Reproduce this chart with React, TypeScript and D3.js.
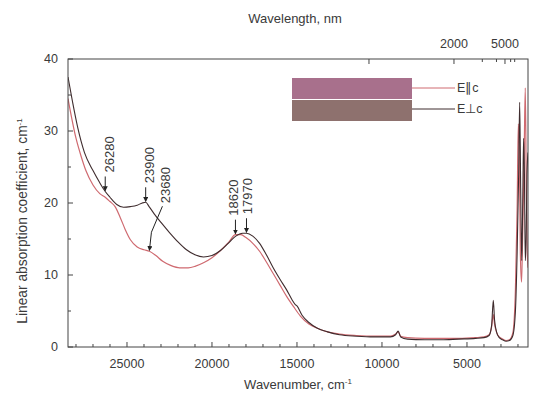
import React, { useEffect, useRef } from 'react';
import * as d3 from 'd3';

// E perpendicular c (dark curve): wavenumber (cm-1) / coefficient (cm-1)
const perpWn = [28470, 28200, 27900, 27500, 27000, 26600, 26280, 26000, 25600, 25200, 24800, 24400, 24100, 23900, 23700, 23400, 23000, 22500, 22000, 21500, 21000, 20500, 20000, 19500, 19000, 18600, 18200, 17970, 17600, 17200, 16800, 16400, 16000, 15600, 15300, 15100, 15000, 14700, 14300, 13800, 13200, 12500, 11500, 10500, 9500, 9200, 9050, 8900, 8500, 7500, 6500, 5500, 4500, 4000, 3700, 3550, 3450, 3380, 3250, 3100, 2900, 2700, 2500, 2300, 2150, 2050, 1960, 1900, 1840, 1780, 1720, 1670, 1620, 1570, 1520, 1470, 1410];
const perpVal = [37.5, 34.0, 30.5, 27.0, 24.5, 22.8, 21.6, 20.8, 19.8, 19.4, 19.5, 19.7, 20.0, 20.1, 19.5, 18.5, 17.3, 15.9, 14.6, 13.5, 12.8, 12.5, 12.7, 13.4, 14.5, 15.4, 15.8, 15.8, 15.4, 14.4, 12.8, 11.0, 9.4, 7.9, 6.6, 5.9, 5.7, 4.4, 3.4, 2.6, 2.1, 1.7, 1.5, 1.4, 1.4, 1.7, 2.2, 1.4, 1.1, 1.0, 1.0, 1.1, 1.2, 1.3, 1.6, 3.0, 6.5, 3.8, 2.0, 1.3, 1.0, 0.8, 0.9, 1.6, 5, 13, 24, 34, 22, 12, 20, 29, 24, 12, 15, 24, 27];

// E parallel c (red curve)
const paraWn = [28470, 28000, 27700, 27400, 27000, 26600, 26280, 26000, 25700, 25400, 25100, 24800, 24400, 24000, 23680, 23300, 22900, 22400, 21900, 21400, 21000, 20500, 20000, 19500, 19000, 18620, 18300, 18000, 17600, 17200, 16800, 16400, 16000, 15600, 15200, 14800, 14300, 13800, 13200, 12500, 11500, 10500, 9500, 9200, 9050, 8900, 8500, 7500, 6500, 5500, 4500, 4000, 3700, 3550, 3450, 3380, 3250, 3100, 2900, 2700, 2500, 2300, 2150, 2050, 1980, 1920, 1860, 1790, 1720, 1640, 1570, 1510, 1450, 1410];
const paraVal = [34.5, 29.0, 26.5, 24.4, 22.5, 21.3, 20.8, 20.2, 19.5, 18.0, 16.3, 14.9, 13.9, 13.5, 13.3, 12.7, 11.9, 11.3, 11.0, 11.0, 11.2, 11.7, 12.4, 13.4, 14.6, 15.6, 15.6, 15.2, 14.4, 13.3, 11.8, 10.2, 8.6, 7.0, 5.6, 4.3, 3.2, 2.6, 2.1, 1.8, 1.6, 1.5, 1.5, 1.8, 2.1, 1.5, 1.3, 1.2, 1.2, 1.2, 1.3, 1.4, 1.7, 2.8, 4.5, 3.2, 2.0, 1.4, 1.1, 0.9, 1.0, 2.0, 8, 19, 31, 27, 13, 9, 16, 26, 36, 22, 13, 11];

const xMajor = [25000, 20000, 15000, 10000, 5000];
const xMinor = d3.range(2000, 29000, 1000);
const yMajor = [0, 10, 20, 30, 40];
const yMinor = [5, 15, 25, 35];
const nmTicks = [1000, 2000, 3000, 4000, 5000, 6000, 7000];
const nmLabels = [2000, 5000];

const peakLabels = ['26280', '23900', '23680', '18620', '17970'];
const peakSeries = ['perp', 'perp', 'para', 'para', 'perp'];

const legendNames = ['E\u2225c', 'E\u22a5c'];

const W = 535, H = 401;
const m = { l: 68, r: 528, t: 59, b: 347 };
const DARK = '#3f2c2e';
const RED = '#cf6a70';
const INK = '#3a3a3a';
const FONT = 'Liberation Sans, Arial, sans-serif';

const App: React.FC = () => {
  const svgRef = useRef<SVGSVGElement>(null);

  useEffect(() => {
    if (!svgRef.current) return;
    const svg = d3.select(svgRef.current);
    svg.selectAll('*').remove();

    const x = d3.scaleLinear().domain([28470, 1410]).range([m.l, m.r]);
    const y = d3.scaleLinear().domain([0, 40]).range([m.b, m.t]);
    // top wavelength axis is drawn a bit off in the original figure
    const xTop = (nm: number) => x(1e7 / nm) - 13;

    const defs = svg.append('defs');
    defs.append('clipPath').attr('id', 'plot-clip')
      .append('rect').attr('x', m.l).attr('y', m.t).attr('width', m.r - m.l).attr('height', m.b - m.t);
    defs.append('marker').attr('id', 'arrowhead')
      .attr('viewBox', '0 0 6 6').attr('refX', 5).attr('refY', 3)
      .attr('markerWidth', 5).attr('markerHeight', 5).attr('orient', 'auto')
      .append('path').attr('d', 'M0,0 L6,3 L0,6 Z').attr('fill', '#222');

    const line = d3.line<[number, number]>().x(d => x(d[0])).y(d => y(d[1])).curve(d3.curveMonotoneX);
    const plot = svg.append('g').attr('clip-path', 'url(#plot-clip)');

    const para = paraWn.map((w, i) => [w, paraVal[i]] as [number, number]).reverse();
    const perp = perpWn.map((w, i) => [w, perpVal[i]] as [number, number]).reverse();

    plot.append('path').datum(para).attr('d', line).attr('fill', 'none').attr('stroke', RED).attr('stroke-width', 1.2);
    plot.append('path').datum(perp).attr('d', line).attr('fill', 'none').attr('stroke', DARK).attr('stroke-width', 1.1);

    // frame
    svg.append('rect').attr('x', m.l).attr('y', m.t).attr('width', m.r - m.l).attr('height', m.b - m.t)
      .attr('fill', 'none').attr('stroke', '#444').attr('stroke-width', 1);

    const ticks = svg.append('g').attr('stroke', '#444').attr('stroke-width', 1);
    xMinor.forEach(v => {
      const major = xMajor.includes(v);
      ticks.append('line').attr('x1', x(v)).attr('x2', x(v)).attr('y1', m.b).attr('y2', m.b - (major ? 5 : 3));
    });
    yMinor.concat(yMajor).forEach(v => {
      const major = yMajor.includes(v);
      ticks.append('line').attr('x1', m.l).attr('x2', m.l + (major ? 5 : 3)).attr('y1', y(v)).attr('y2', y(v));
    });
    nmTicks.forEach(v => {
      const major = nmLabels.includes(v) || v === 1000;
      ticks.append('line').attr('x1', xTop(v)).attr('x2', xTop(v)).attr('y1', m.t).attr('y2', m.t + (major ? 5 : 3));
    });

    const text = svg.append('g').attr('font-family', FONT).attr('fill', INK).attr('font-size', 12.5);
    xMajor.forEach(v => {
      text.append('text').attr('x', x(v)).attr('y', m.b + 21).attr('text-anchor', 'middle').text(d3.format('d')(v));
    });
    yMajor.forEach(v => {
      text.append('text').attr('x', m.l - 10).attr('y', y(v)).attr('dy', '0.35em').attr('text-anchor', 'end').text(v);
    });
    nmLabels.forEach(v => {
      text.append('text').attr('x', xTop(v)).attr('y', m.t - 11).attr('text-anchor', 'middle').text(v);
    });

    // axis titles
    const xt = text.append('text').attr('x', 298).attr('y', 389).attr('text-anchor', 'middle').attr('font-size', 13);
    xt.append('tspan').text('Wavenumber, cm');
    xt.append('tspan').attr('dy', -5).attr('font-size', 8).text('-1');
    text.append('text').attr('x', 295).attr('y', 23).attr('text-anchor', 'middle').attr('font-size', 13).text('Wavelength, nm');
    const yt = text.append('text').attr('transform', 'translate(27,221) rotate(-90)').attr('text-anchor', 'middle').attr('font-size', 13.8);
    yt.append('tspan').text('Linear absorption coefficient, cm');
    yt.append('tspan').attr('dy', -5).attr('font-size', 8).text('-1');

    // peak annotations
    const interp = (wns: number[], vals: number[], w: number) => {
      const pts = wns.map((v, i) => [v, vals[i]] as [number, number]).reverse();
      const i = d3.bisector((d: [number, number]) => d[0]).left(pts, w);
      if (i <= 0) return pts[0][1];
      const a = pts[i - 1], b = pts[i];
      return a[1] + (b[1] - a[1]) * (w - a[0]) / (b[0] - a[0]);
    };
    const ann = svg.append('g').attr('font-family', FONT).attr('fill', INK).attr('font-size', 13);
    peakLabels.forEach((lab, i) => {
      const w = +lab;
      const v = peakSeries[i] === 'perp' ? interp(perpWn, perpVal, w) : interp(paraWn, paraVal, w);
      const px = x(w);
      const py = y(v) - 1;
      let tx = px + 4;
      let tyBottom = py - 18;
      if (lab === '23680') {
        tx = px + 16;
        tyBottom = py - 47;
        ann.append('path')
          .attr('d', `M${px + 13},${py - 44} L${px + 2},${py - 18} L${px},${py}`)
          .attr('fill', 'none').attr('stroke', '#222').attr('stroke-width', 1).attr('marker-end', 'url(#arrowhead)');
      } else {
        ann.append('line').attr('x1', px).attr('x2', px).attr('y1', py - 14).attr('y2', py)
          .attr('stroke', '#222').attr('stroke-width', 1).attr('marker-end', 'url(#arrowhead)');
      }
      if (lab === '18620') tx = px - 2;
      if (lab === '17970') tx = px + 1;
      ann.append('text').attr('transform', `translate(${tx},${tyBottom}) rotate(-90)`)
        .attr('dy', '0.35em').text(lab);
    });

    // legend
    const lg = svg.append('g');
    lg.append('rect').attr('x', 292).attr('y', 78).attr('width', 120).attr('height', 21).attr('fill', '#a8708c');
    lg.append('rect').attr('x', 292).attr('y', 100).attr('width', 120).attr('height', 21).attr('fill', '#8e716e');
    [RED, DARK].forEach((c, i) => {
      const ly = 88 + i * 21;
      lg.append('line').attr('x1', 412).attr('x2', 455).attr('y1', ly).attr('y2', ly).attr('stroke', c).attr('stroke-width', 1);
      lg.append('text').attr('x', 457).attr('y', ly).attr('dy', '0.35em').attr('font-family', FONT)
        .attr('font-size', 12.5).attr('fill', INK).text(legendNames[i]);
    });
  }, []);

  return (
    <svg ref={svgRef} width={W} height={H}
      style={{ position: 'fixed', left: 0, top: 0, background: '#fff' }} />
  );
};

export default App;
